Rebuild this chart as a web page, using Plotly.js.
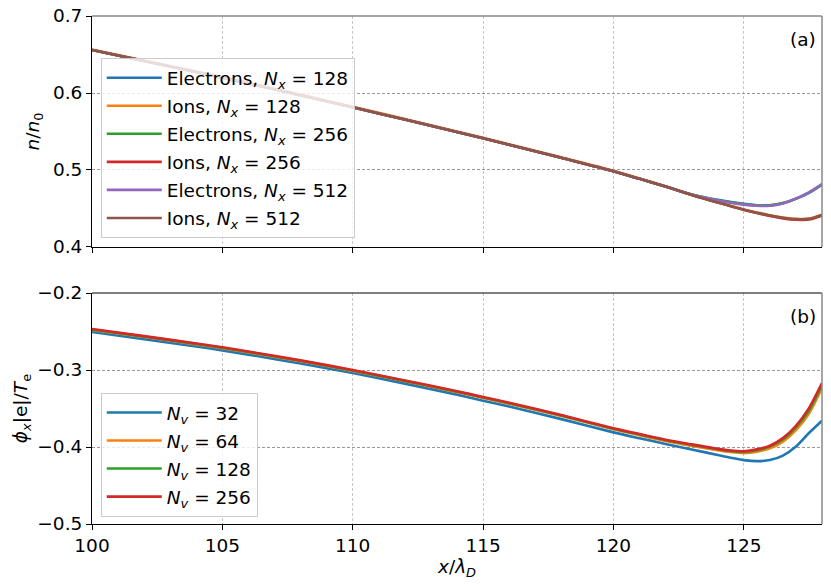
<!DOCTYPE html>
<html>
<head>
<meta charset="utf-8">
<script src="https://cdn.plot.ly/plotly-3.0.1.min.js"></script>
<style>html,body{margin:0;padding:0;background:#fff;}#chart{width:831px;height:586px;}</style>
</head>
<body>
<div id="chart"></div>
<script>
// ---- Panel (a): densities ----
const xTop = [100,102,104,106,108,110,112,114,116,118,120,121,122,123,124,125,125.5,126,126.5,127,127.5,128];
const elec128 = [0.6558,0.6415,0.6273,0.6125,0.5972,0.5814,0.5655,0.5493,0.5328,0.5158,0.4985,0.4885,0.4786,0.4682,0.4612,0.4560,0.4543,0.4540,0.4568,0.4625,0.4703,0.4810];
const ions128  = [0.6565,0.6422,0.6280,0.6132,0.5979,0.5821,0.5662,0.5500,0.5335,0.5165,0.4990,0.4890,0.4788,0.4678,0.4581,0.4488,0.4449,0.4412,0.4384,0.4366,0.4368,0.4420];
const elec256  = [0.6558,0.6415,0.6273,0.6125,0.5972,0.5814,0.5655,0.5493,0.5328,0.5158,0.4985,0.4885,0.4786,0.4681,0.4608,0.4556,0.4540,0.4542,0.4570,0.4628,0.4707,0.4814];
const ions256  = [0.6558,0.6415,0.6273,0.6125,0.5972,0.5814,0.5655,0.5493,0.5328,0.5158,0.4985,0.4885,0.4785,0.4675,0.4577,0.4483,0.4442,0.4404,0.4372,0.4353,0.4356,0.4408];
const elec512  = [0.6558,0.6415,0.6273,0.6125,0.5972,0.5814,0.5655,0.5493,0.5328,0.5158,0.4985,0.4885,0.4786,0.4680,0.4605,0.4550,0.4535,0.4535,0.4565,0.4630,0.4710,0.4818];
const ions512  = [0.6558,0.6415,0.6273,0.6125,0.5972,0.5814,0.5655,0.5493,0.5328,0.5158,0.4985,0.4885,0.4785,0.4675,0.4578,0.4485,0.4445,0.4408,0.4380,0.4363,0.4365,0.4415];
const topNames = ["Electrons, <i>N</i><sub><i>x</i></sub> = 128","Ions, <i>N</i><sub><i>x</i></sub> = 128",
                  "Electrons, <i>N</i><sub><i>x</i></sub> = 256","Ions, <i>N</i><sub><i>x</i></sub> = 256",
                  "Electrons, <i>N</i><sub><i>x</i></sub> = 512","Ions, <i>N</i><sub><i>x</i></sub> = 512"];

// ---- Panel (b): potential ----
const xBot = [100,102,104,105,106,108,110,112,114,115,116,118,120,121,122,123,124,124.5,125,125.5,126,126.5,127,127.5,128];
const phi32  = [-0.2506,-0.2600,-0.2695,-0.2745,-0.2800,-0.2915,-0.3040,-0.3177,-0.3320,-0.3398,-0.3475,-0.3638,-0.3810,-0.3886,-0.3960,-0.4032,-0.4104,-0.4140,-0.4170,-0.4183,-0.4170,-0.4112,-0.3994,-0.3818,-0.3658];
const phi64  = [-0.2480,-0.2572,-0.2667,-0.2717,-0.2772,-0.2887,-0.3012,-0.3147,-0.3287,-0.3362,-0.3437,-0.3597,-0.3769,-0.3848,-0.3922,-0.3985,-0.4042,-0.4066,-0.4080,-0.4062,-0.4018,-0.3930,-0.3780,-0.3565,-0.3235];
const phi128 = [-0.2474,-0.2566,-0.2661,-0.2711,-0.2766,-0.2881,-0.3006,-0.3141,-0.3281,-0.3356,-0.3431,-0.3591,-0.3763,-0.3838,-0.3912,-0.3972,-0.4030,-0.4054,-0.4064,-0.4042,-0.3995,-0.3903,-0.3745,-0.3525,-0.3195];
const phi256 = [-0.2468,-0.2560,-0.2655,-0.2705,-0.2760,-0.2875,-0.3000,-0.3135,-0.3275,-0.3350,-0.3425,-0.3585,-0.3757,-0.3832,-0.3905,-0.3966,-0.4024,-0.4046,-0.4055,-0.4031,-0.3983,-0.3885,-0.3725,-0.3495,-0.3170];
const botNames = ["<i>N</i><sub><i>v</i></sub> = 32","<i>N</i><sub><i>v</i></sub> = 64",
                  "<i>N</i><sub><i>v</i></sub> = 128","<i>N</i><sub><i>v</i></sub> = 256"];

const xTicks = [100,105,110,115,120,125];
const xTickText = ["100","105","110","115","120","125"];
const topTicks = [0.4,0.5,0.6,0.7];
const botTicks = [-0.5,-0.4,-0.3,-0.2];

const colors = ["#1f77b4","#ff7f0e","#2ca02c","#d62728","#9467bd","#8c564b"];
const topSeries = [elec128, ions128, elec256, ions256, elec512, ions512];
const botSeries = [phi32, phi64, phi128, phi256];

const traces = [];
topSeries.forEach((s,i)=>traces.push({
  x:xTop, y:s, xaxis:'x', yaxis:'y', type:'scatter', mode:'lines', name:topNames[i],
  line:{color:colors[i], width:2.6, shape:'spline', smoothing:0.7}, legend:'legend', legendgroup:'t'+i
}));
botSeries.forEach((s,i)=>traces.push({
  x:xBot, y:s, xaxis:'x2', yaxis:'y2', type:'scatter', mode:'lines', name:botNames[i],
  line:{color:colors[i], width:2.6, shape:'spline', smoothing:0.7}, legend:'legend2', legendgroup:'b'+i
}));

const font = {family:'"DejaVu Sans", Arial, sans-serif', size:18.5, color:'#000'};
const xCommon = {range:[100,128], tickvals:xTicks, ticktext:xTickText, ticks:'outside', ticklen:5, tickwidth:1, tickcolor:'#000',
  showline:true, linecolor:'#000', linewidth:1, showgrid:true, gridcolor:'#b8b8b8', griddash:'3px,2px', gridwidth:0.8, zeroline:false};
const yCommon = {dtick:0.1, tickformat:'.1f', ticks:'outside', ticklen:5, tickwidth:1, tickcolor:'#000',
  showline:true, linecolor:'#000', linewidth:1, showgrid:true, gridcolor:'#808080', griddash:'3px,2px', gridwidth:0.8, zeroline:false};

const spineStyle = {color:'#888', width:1.5};
const layout = {
  width:831, height:586, margin:{l:92, r:9, t:16, b:62},
  paper_bgcolor:'#fff', plot_bgcolor:'#fff', font:font, showlegend:true,
  xaxis: Object.assign({}, xCommon, {domain:[0,1], anchor:'y', showticklabels:false}),
  yaxis: Object.assign({}, yCommon, {domain:[0.5453,1], anchor:'x', range:[0.4,0.7], tickvals:topTicks,
    title:{text:'<i>n</i>/<i>n</i><sub>0</sub>', standoff:8, font:font}}),
  xaxis2: Object.assign({}, xCommon, {domain:[0,1], anchor:'y2', showticklabels:true,
    title:{text:'<i>x</i>/<i>λ</i><sub><i>D</i></sub>', standoff:4, font:font}}),
  yaxis2: Object.assign({}, yCommon, {domain:[0,0.4547], anchor:'x2', range:[-0.5,-0.2], tickvals:botTicks,
    title:{text:'<i>ϕ</i><sub><i>x</i></sub>|e|/<i>T</i><sub>e</sub>', standoff:4, font:font}}),
  legend:{x:0.012, y:0.917, xanchor:'left', yanchor:'top', bgcolor:'rgba(255,255,255,0.8)', bordercolor:'#cccccc', borderwidth:1,
    font:font, tracegroupgap:1, itemwidth:55},
  legend2:{x:0.012, y:0.258, xanchor:'left', yanchor:'top', bgcolor:'rgba(255,255,255,0.8)', bordercolor:'#cccccc', borderwidth:1,
    font:font, tracegroupgap:1, itemwidth:55},
  annotations:[
    {text:'(a)', xref:'paper', yref:'paper', x:0.9945, y:0.953, xanchor:'right', yanchor:'middle', showarrow:false, font:font},
    {text:'(b)', xref:'paper', yref:'paper', x:0.9945, y:0.4075, xanchor:'right', yanchor:'middle', showarrow:false, font:font}
  ],
  shapes:[
    {type:'line', xref:'x domain', yref:'y domain', x0:0, x1:1, y0:1, y1:1, line:spineStyle},
    {type:'line', xref:'x domain', yref:'y domain', x0:1, x1:1, y0:0, y1:1, line:spineStyle},
    {type:'line', xref:'x2 domain', yref:'y2 domain', x0:0, x1:1, y0:1, y1:1, line:{color:'#000', width:1}},
    {type:'line', xref:'x2 domain', yref:'y2 domain', x0:1, x1:1, y0:0, y1:1, line:spineStyle}
  ]
};
Plotly.newPlot('chart', traces, layout, {displayModeBar:false, staticPlot:true});
</script>
</body>
</html>
